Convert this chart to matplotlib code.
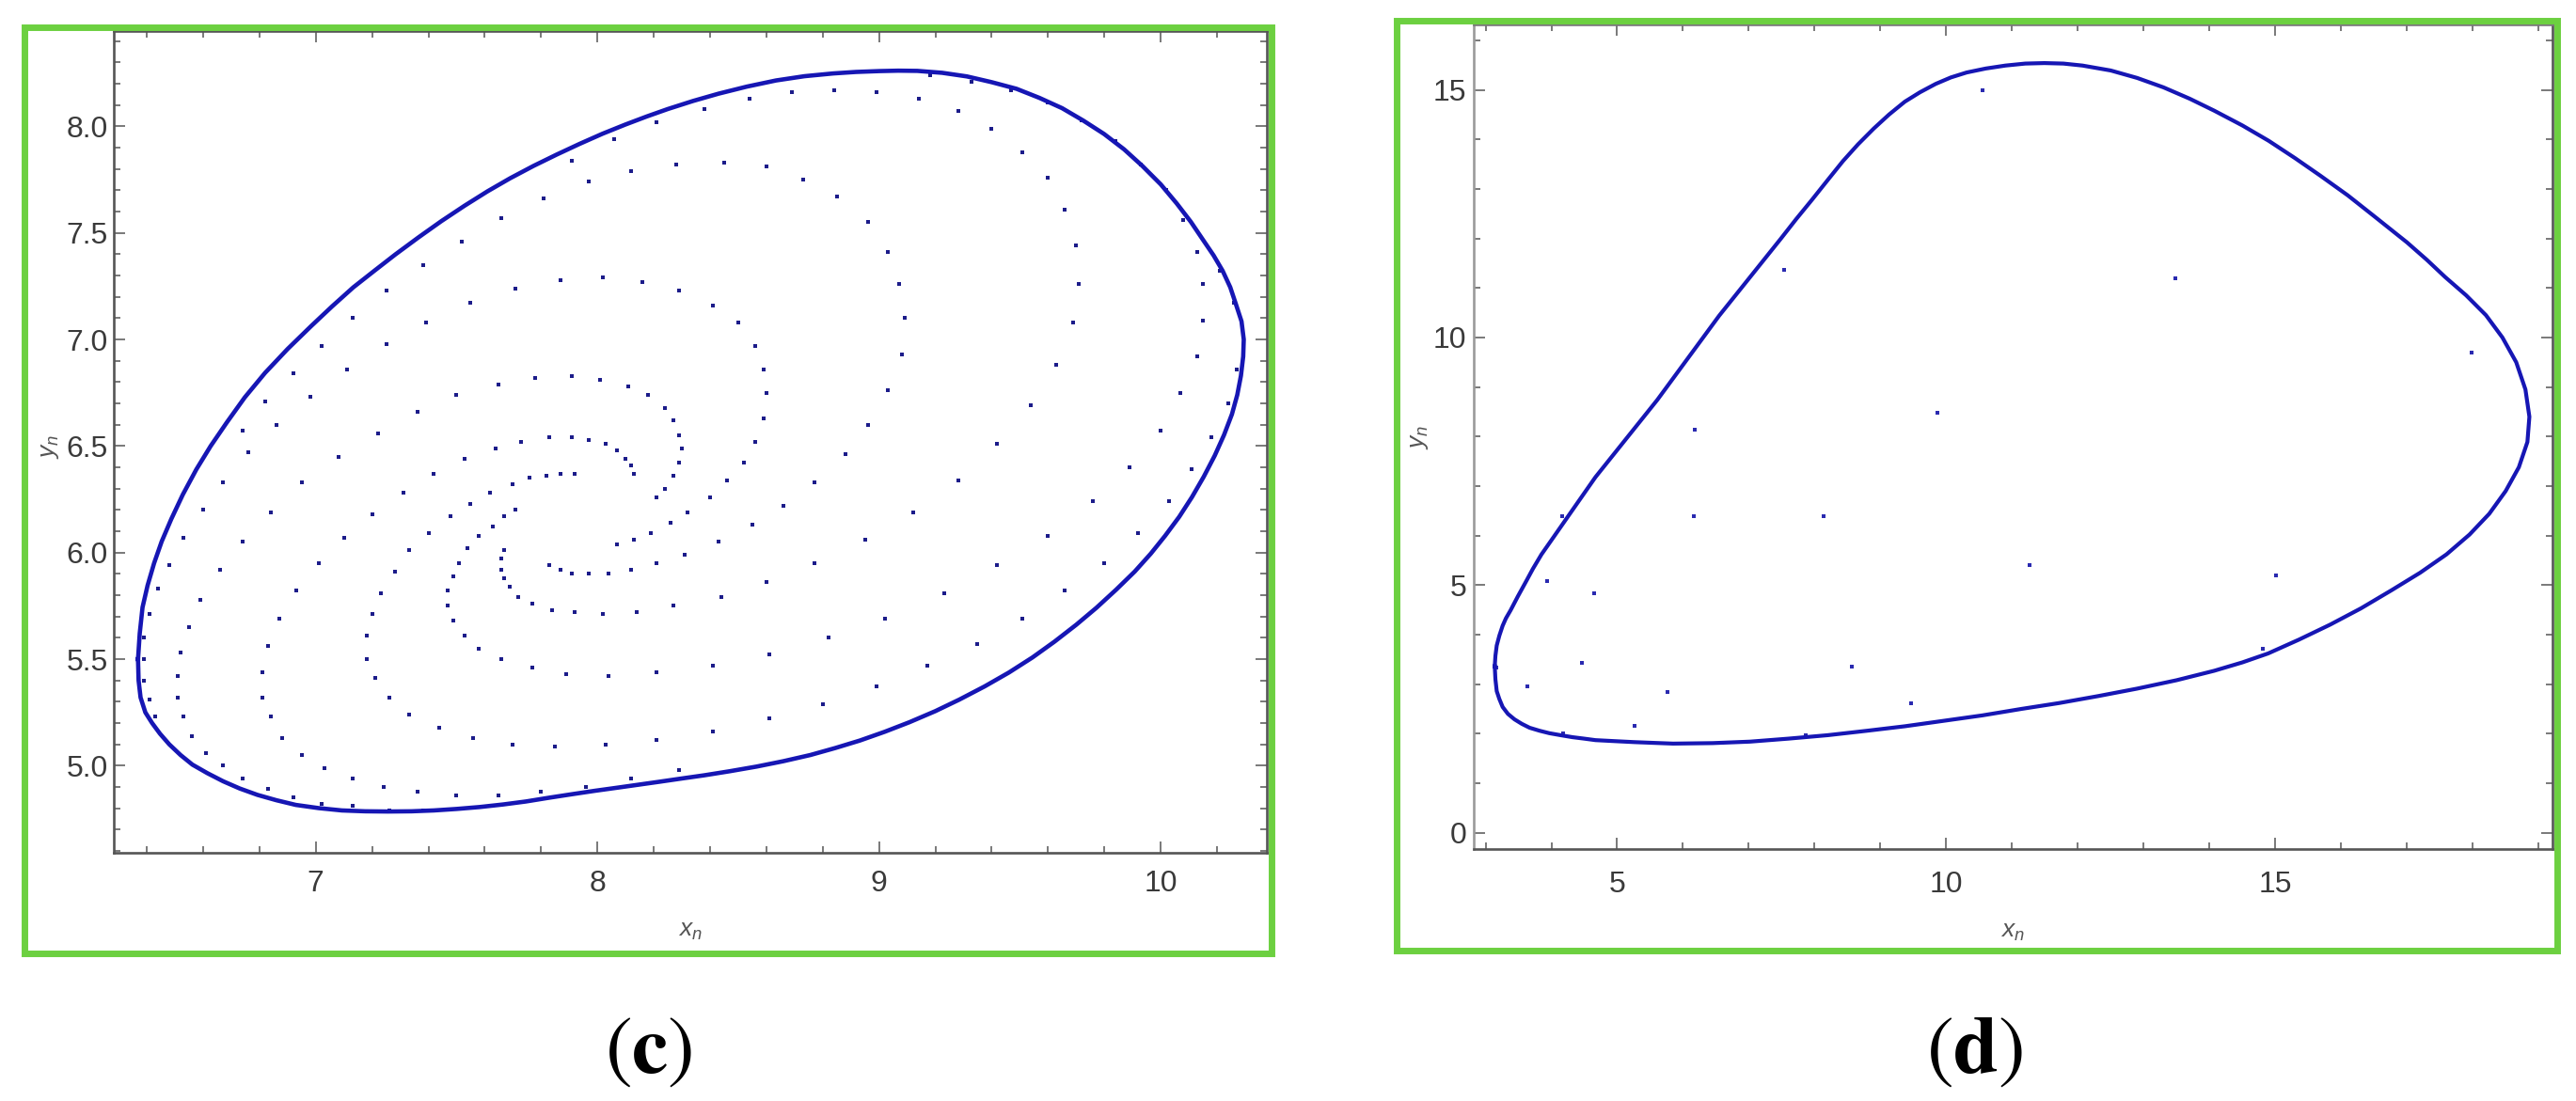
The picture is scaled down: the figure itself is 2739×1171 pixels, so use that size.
import matplotlib as mpl
from matplotlib import pyplot as plt
from matplotlib import ticker
from matplotlib.patches import Rectangle

# ---- panel (c): closed invariant curve and the spiral orbit inside it ----
cycle_c = [
    (6.369, 5.50), (6.371, 5.40), (6.378, 5.32), (6.395, 5.25), (6.419, 5.20),
    (6.447, 5.15), (6.480, 5.10), (6.52, 5.05), (6.562, 5.005), (6.615, 4.965),
    (6.671, 4.927), (6.73, 4.893), (6.793, 4.863), (6.86, 4.838), (6.929, 4.816),
    (7.01, 4.801), (7.093, 4.790), (7.175, 4.786), (7.256, 4.785), (7.34, 4.786),
    (7.419, 4.790), (7.50, 4.797), (7.582, 4.806), (7.665, 4.818), (7.746, 4.832),
    (7.83, 4.850), (7.909, 4.866), (7.99, 4.882), (8.072, 4.897), (8.147, 4.911),
    (8.222, 4.925), (8.30, 4.940), (8.38, 4.955), (8.47, 4.974), (8.566, 4.996),
    (8.66, 5.021), (8.756, 5.050), (8.845, 5.083), (8.932, 5.118), (9.02, 5.159),
    (9.108, 5.204), (9.20, 5.256), (9.285, 5.310), (9.375, 5.372), (9.461, 5.437),
    (9.545, 5.508), (9.623, 5.582), (9.70, 5.661), (9.772, 5.741), (9.842, 5.826),
    (9.908, 5.911), (9.965, 5.995), (10.016, 6.079), (10.066, 6.168), (10.111, 6.260),
    (10.153, 6.356), (10.192, 6.455), (10.225, 6.552), (10.253, 6.649), (10.272, 6.74),
    (10.285, 6.830), (10.293, 6.92), (10.295, 7.00), (10.287, 7.085), (10.267, 7.166),
    (10.247, 7.245), (10.220, 7.322), (10.188, 7.394), (10.152, 7.464), (10.107, 7.552),
    (10.057, 7.638), (10.000, 7.728), (9.935, 7.814), (9.870, 7.892), (9.799, 7.964),
    (9.725, 8.027), (9.650, 8.085), (9.570, 8.133), (9.488, 8.176), (9.40, 8.207),
    (9.312, 8.234), (9.224, 8.251), (9.136, 8.260), (9.068, 8.261), (9.0, 8.259),
    (8.918, 8.255), (8.837, 8.248), (8.735, 8.235), (8.634, 8.215), (8.53, 8.186),
    (8.43, 8.153), (8.34, 8.119), (8.25, 8.081), (8.175, 8.046), (8.099, 8.008),
    (8.018, 7.965), (7.936, 7.917), (7.855, 7.867), (7.773, 7.814), (7.69, 7.756),
    (7.610, 7.695), (7.528, 7.627), (7.446, 7.555), (7.365, 7.479), (7.283, 7.399),
    (7.208, 7.322), (7.133, 7.244), (7.058, 7.155), (6.984, 7.063), (6.90, 6.955),
    (6.820, 6.843), (6.748, 6.728), (6.684, 6.610), (6.627, 6.500), (6.576, 6.390),
    (6.528, 6.272), (6.487, 6.157), (6.453, 6.052), (6.426, 5.950), (6.403, 5.846),
    (6.385, 5.743), (6.375, 5.62), (6.369, 5.50),
]

orbit_c = [
    (8.21, 8.02), (8.06, 7.94), (7.91, 7.84), (8.28, 7.82), (8.12, 7.79),
    (7.97, 7.74), (7.81, 7.66), (7.66, 7.57), (7.52, 7.46), (7.38, 7.35),
    (8.02, 7.29), (7.87, 7.28), (8.16, 7.27), (7.71, 7.24), (8.29, 7.23),
    (7.25, 7.23), (7.55, 7.17), (7.13, 7.10), (7.39, 7.08), (7.25, 6.98),
    (7.02, 6.97), (7.11, 6.86), (6.92, 6.84), (7.78, 6.82), (7.91, 6.83),
    (8.01, 6.81), (7.65, 6.79), (8.11, 6.78), (7.50, 6.74), (8.18, 6.74),
    (6.98, 6.73), (6.82, 6.71), (8.24, 6.68), (7.36, 6.66), (8.27, 6.62),
    (6.86, 6.60), (6.74, 6.57), (7.22, 6.56), (8.29, 6.55), (7.83, 6.54),
    (7.91, 6.54), (7.97, 6.53), (7.73, 6.52), (8.03, 6.51), (7.64, 6.49),
    (8.07, 6.48), (8.30, 6.49), (6.76, 6.47), (7.08, 6.45), (8.10, 6.44),
    (7.53, 6.44), (8.29, 6.42), (8.12, 6.41), (7.42, 6.37), (8.13, 6.37),
    (7.82, 6.36), (7.87, 6.37), (7.92, 6.37), (7.76, 6.35), (8.27, 6.36),
    (6.67, 6.33), (6.95, 6.33), (7.70, 6.32), (8.24, 6.30), (7.31, 6.28),
    (7.62, 6.28), (8.21, 6.26), (7.55, 6.23), (7.71, 6.20), (6.60, 6.20),
    (6.84, 6.19), (7.20, 6.18), (8.32, 6.19), (7.48, 6.17), (7.67, 6.17),
    (8.26, 6.14), (7.63, 6.12), (7.40, 6.09), (8.19, 6.09), (7.58, 6.08),
    (6.53, 6.07), (7.10, 6.07), (8.13, 6.06), (6.74, 6.05), (8.07, 6.04),
    (7.54, 6.02), (7.33, 6.01), (7.67, 6.01), (8.31, 5.99), (7.51, 5.95),
    (7.66, 5.97), (7.01, 5.95), (8.21, 5.95), (6.48, 5.94), (7.83, 5.94),
    (7.66, 5.92), (8.12, 5.92), (7.87, 5.92), (6.66, 5.92), (7.28, 5.91),
    (7.91, 5.90), (7.97, 5.90), (8.04, 5.90), (7.49, 5.89), (7.67, 5.88),
    (7.69, 5.84), (6.44, 5.83), (6.93, 5.82), (7.47, 5.82), (7.23, 5.81),
    (7.72, 5.79), (6.59, 5.78), (7.77, 5.76), (7.47, 5.75), (8.27, 5.75),
    (7.84, 5.73), (7.92, 5.72), (8.02, 5.71), (8.14, 5.72), (7.20, 5.71),
    (6.41, 5.71), (6.87, 5.69), (7.49, 5.68), (6.55, 5.65), (7.18, 5.61),
    (7.53, 5.61), (6.39, 5.60), (6.83, 5.56), (7.58, 5.55), (6.52, 5.53),
    (7.18, 5.50), (7.66, 5.50), (6.39, 5.50), (7.77, 5.46), (6.81, 5.44),
    (8.21, 5.44), (7.89, 5.43), (8.04, 5.42), (6.51, 5.42), (7.21, 5.41),
    (6.39, 5.40), (6.81, 5.32), (6.51, 5.32), (7.26, 5.32), (6.41, 5.31),
    (7.33, 5.24), (6.84, 5.23), (6.53, 5.23), (6.43, 5.23), (7.44, 5.18),
    (6.56, 5.14), (7.56, 5.13), (6.88, 5.13), (8.21, 5.12), (7.70, 5.10),
    (8.03, 5.10), (7.85, 5.09), (6.61, 5.06), (6.95, 5.05), (6.67, 5.00),
    (7.03, 4.99), (8.29, 4.98), (6.74, 4.94), (7.13, 4.94), (8.12, 4.94),
    (7.96, 4.90), (7.24, 4.90), (6.83, 4.89), (7.36, 4.88), (7.80, 4.88),
    (7.50, 4.86), (7.65, 4.86), (6.92, 4.85), (7.02, 4.82), (7.13, 4.81),
    (7.26, 4.79), (7.38, 4.79),
    # right half
    (8.38, 8.08), (8.54, 8.13), (8.69, 8.16), (8.84, 8.17), (8.99, 8.16),
    (9.14, 8.13), (9.28, 8.07), (9.40, 7.99), (9.51, 7.88), (9.60, 7.76),
    (9.66, 7.61), (9.70, 7.44), (9.71, 7.26), (9.69, 7.08), (9.63, 6.88),
    (9.54, 6.69), (9.42, 6.51), (9.28, 6.34), (9.12, 6.19), (8.95, 6.06),
    (8.77, 5.95), (8.60, 5.86), (8.44, 5.79),
    (9.18, 8.24), (9.33, 8.21), (9.47, 8.17),
    (9.60, 8.11), (9.72, 8.03), (9.84, 7.93), (9.93, 7.82), (10.02, 7.70),
    (10.08, 7.56), (10.13, 7.41), (10.15, 7.26), (10.15, 7.09), (10.13, 6.92),
    (10.07, 6.75), (10.00, 6.57), (9.89, 6.40), (9.76, 6.24), (9.60, 6.08),
    (9.42, 5.94), (9.23, 5.81), (9.02, 5.69), (8.82, 5.60), (8.61, 5.52),
    (8.41, 5.47),
    (10.21, 7.32), (10.26, 7.17), (10.27, 6.86), (10.24, 6.70), (10.18, 6.54),
    (10.11, 6.39), (10.03, 6.24), (9.92, 6.09), (9.80, 5.95), (9.66, 5.82),
    (9.51, 5.69), (9.35, 5.57), (9.17, 5.47), (8.99, 5.37), (8.80, 5.29),
    (8.61, 5.22), (8.41, 5.16),
    (8.45, 7.83), (8.60, 7.81), (8.73, 7.75), (8.85, 7.67), (8.96, 7.55),
    (9.03, 7.41), (9.07, 7.26), (9.09, 7.10), (9.08, 6.93), (9.03, 6.76),
    (8.96, 6.60), (8.88, 6.46), (8.77, 6.33), (8.66, 6.22), (8.55, 6.13),
    (8.43, 6.05),
    (8.41, 7.16), (8.50, 7.08), (8.56, 6.97), (8.59, 6.86), (8.60, 6.75),
    (8.59, 6.63), (8.56, 6.52), (8.52, 6.42), (8.46, 6.34), (8.40, 6.26),
]

# ---- panel (d): closed invariant curve and a few orbit points ----
cycle_d = [
    (3.14, 3.36), (3.15, 3.10), (3.17, 2.86), (3.21, 2.70), (3.26, 2.54),
    (3.34, 2.40), (3.44, 2.29), (3.55, 2.20), (3.67, 2.12), (3.82, 2.06),
    (3.97, 2.01), (4.14, 1.97), (4.32, 1.93), (4.50, 1.90), (4.67, 1.87),
    (4.96, 1.85), (5.26, 1.83), (5.55, 1.815), (5.85, 1.80), (6.45, 1.81),
    (7.02, 1.84), (7.60, 1.90), (8.20, 1.97), (8.80, 2.06), (9.37, 2.15),
    (9.96, 2.26), (10.55, 2.37), (11.14, 2.50), (11.72, 2.62), (12.31, 2.76),
    (12.90, 2.91), (13.50, 3.08), (14.07, 3.27), (14.50, 3.44), (14.89, 3.62),
    (15.36, 3.90), (15.83, 4.20), (16.30, 4.53), (16.77, 4.90), (17.20, 5.25),
    (17.60, 5.62), (17.95, 6.02), (18.25, 6.44), (18.50, 6.90), (18.70, 7.38),
    (18.83, 7.89), (18.86, 8.40), (18.80, 8.95), (18.66, 9.50), (18.45, 10.00),
    (18.20, 10.45), (17.90, 10.85), (17.58, 11.22), (17.30, 11.57), (17.00, 11.92),
    (16.50, 12.45), (16.10, 12.87), (15.68, 13.27), (15.30, 13.62), (14.90, 13.97),
    (14.50, 14.28), (14.07, 14.58), (13.70, 14.82), (13.30, 15.05), (12.90, 15.24),
    (12.50, 15.39), (12.07, 15.49), (11.78, 15.53), (11.49, 15.54), (11.20, 15.53),
    (10.90, 15.49), (10.60, 15.43), (10.31, 15.35), (10.07, 15.25), (9.84, 15.12),
    (9.60, 14.95), (9.37, 14.76), (9.13, 14.50), (8.90, 14.22), (8.66, 13.90),
    (8.43, 13.56), (8.20, 13.18), (7.96, 12.78), (7.72, 12.39), (7.49, 12.00),
    (7.02, 11.22), (6.55, 10.44), (6.08, 9.59), (5.61, 8.74), (5.14, 7.96),
    (4.67, 7.18), (4.26, 6.40), (4.05, 6.00), (3.85, 5.62), (3.72, 5.33),
    (3.61, 5.06), (3.49, 4.77), (3.38, 4.49), (3.31, 4.33), (3.26, 4.18),
    (3.21, 3.98), (3.17, 3.78), (3.15, 3.57), (3.14, 3.36),
]

orbit_d = [
    (10.55, 15.0), (7.53, 11.36), (13.48, 11.19), (17.98, 9.70), (9.86, 8.48),
    (6.18, 8.14), (4.17, 6.40), (6.16, 6.40), (8.13, 6.40), (11.27, 5.40),
    (15.01, 5.20), (3.94, 5.08), (4.65, 4.84), (4.46, 3.43), (8.57, 3.36),
    (14.81, 3.71), (3.17, 3.33), (3.63, 2.96), (5.76, 2.85), (9.47, 2.62),
    (5.27, 2.15), (4.18, 2.01), (7.87, 1.97),
]

frame_color = '#555555'
label_color = '#3a3a3a'
curve_color = '#1616b4'
dot_color = '#1c1c8a'
green = '#6cd040'

plt.rcParams['mathtext.fontset'] = 'custom'
plt.rcParams['mathtext.it'] = 'Liberation Sans:italic'
plt.rcParams['mathtext.rm'] = 'Liberation Sans'
tick_font = ['Liberation Sans Narrow', 'Liberation Sans', 'DejaVu Sans']

fig = plt.figure(figsize=(27.39, 11.71), dpi=100)

ax_c = fig.add_axes([0.04418, 0.22519, 0.44772, 0.74663])
ax_d = fig.add_axes([0.57193, 0.22861, 0.41884, 0.74919])


def style_axes(ax, xpad, ypad):
    for side in ['left', 'right', 'top', 'bottom']:
        ax.spines[side].set_color(frame_color)
        ax.spines[side].set_linewidth(1.9)
    ax.tick_params(which='both', direction='in', top=True, right=True,
                   color=frame_color, width=1.1, labelcolor=label_color,
                   labelsize=23)
    ax.tick_params(which='major', length=8.5)
    ax.tick_params(which='minor', length=5)
    ax.tick_params(axis='x', pad=xpad)
    ax.tick_params(axis='y', pad=ypad)
    for lab in ax.get_xticklabels() + ax.get_yticklabels():
        lab.set_family(tick_font)


# panel (c)
ax_c.plot([p[0] for p in cycle_c], [p[1] for p in cycle_c],
          color=curve_color, lw=3.3, solid_joinstyle='round', zorder=3)
ax_c.plot([p[0] for p in orbit_c], [p[1] for p in orbit_c], ls='none',
          marker='s', ms=2.8, mew=0, color=dot_color, zorder=2)
ax_c.set_xlim(6.283, 10.378)
ax_c.set_ylim(4.590, 8.447)
ax_c.xaxis.set_major_locator(ticker.MultipleLocator(1))
ax_c.xaxis.set_minor_locator(ticker.MultipleLocator(0.2))
ax_c.yaxis.set_major_locator(ticker.MultipleLocator(0.5))
ax_c.yaxis.set_minor_locator(ticker.MultipleLocator(0.1))
ax_c.yaxis.set_major_formatter(ticker.FormatStrFormatter('%.1f'))
ax_c.xaxis.set_major_formatter(ticker.FormatStrFormatter('%d'))
style_axes(ax_c, 13, 4.5)
ax_c.set_xlabel(r'$x_n$', fontsize=19, color='#555555', va='center')
ax_c.set_ylabel(r'$y_n$', fontsize=19, color='#555555', va='center')
ax_c.xaxis.set_label_coords(0.5, -0.094)
ax_c.yaxis.set_label_coords(-0.0563, 0.494)

# panel (d)
ax_d.plot([p[0] for p in cycle_d], [p[1] for p in cycle_d],
          color=curve_color, lw=3.0, solid_joinstyle='round', zorder=3)
ax_d.plot([p[0] for p in orbit_d], [p[1] for p in orbit_d], ls='none',
          marker='s', ms=2.8, mew=0, color='#2a2ab0', zorder=2)
ax_d.set_xlim(2.814, 19.207)
ax_d.set_ylim(-0.334, 16.32)
ax_d.xaxis.set_major_locator(ticker.MultipleLocator(5))
ax_d.xaxis.set_minor_locator(ticker.MultipleLocator(1))
ax_d.yaxis.set_major_locator(ticker.MultipleLocator(5))
ax_d.yaxis.set_minor_locator(ticker.MultipleLocator(1))
style_axes(ax_d, 16, 5)
ax_d.spines['left'].set_color('#9a9a9a')
ax_d.spines['top'].set_color('#7a7a7a')
ax_d.set_xlabel(r'$x_n$', fontsize=19, color='#555555', va='center')
ax_d.set_ylabel(r'$y_n$', fontsize=19, color='#555555', va='center')
ax_d.xaxis.set_label_coords(0.5, -0.099)
ax_d.yaxis.set_label_coords(-0.0514, 0.5)

# green frames round each panel
W, H = 2739.0, 1171.0
for x0, y0, x1, y1 in [(25.5, 28.5, 1351.5, 1013.5), (1484.5, 21.8, 2718.5, 1010.5)]:
    fig.patches.append(Rectangle((x0 / W, 1 - y1 / H), (x1 - x0) / W, (y1 - y0) / H,
                                 transform=fig.transFigure, fill=False,
                                 edgecolor=green, lw=5.0, zorder=5))

# sub-figure captions
fig.text(690 / W, 1 - 1117 / H, r'$(\mathbf{c})$', math_fontfamily='stix',
         fontsize=62, ha='center', va='center')
fig.text(2100 / W, 1 - 1117 / H, r'$(\mathbf{d})$', math_fontfamily='stix',
         fontsize=62, ha='center', va='center')

plt.savefig('out.png', dpi=100)
